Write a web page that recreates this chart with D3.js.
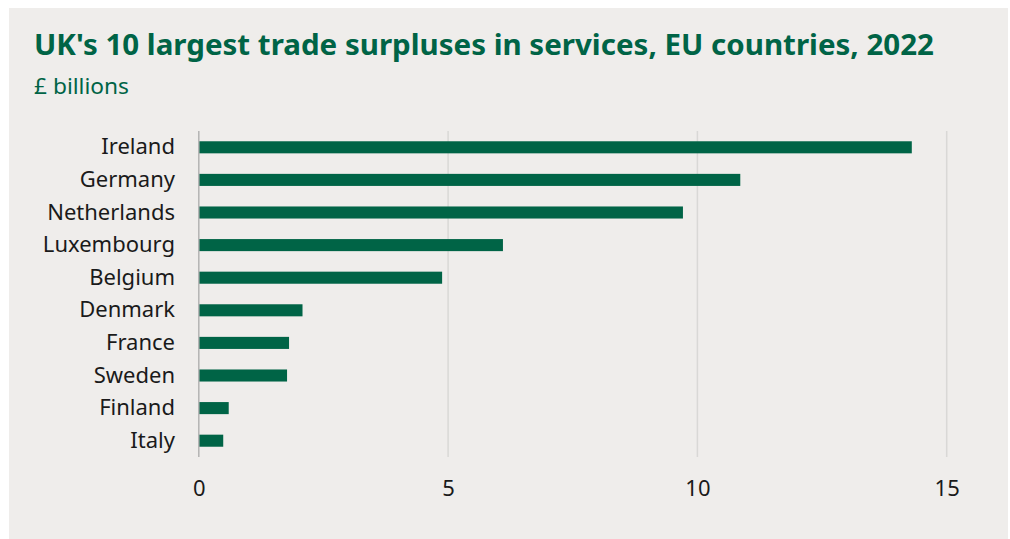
<!DOCTYPE html>
<html>
<head>
<meta charset="utf-8">
<script src="https://cdn.jsdelivr.net/npm/d3@7"></script>
<style>
  html, body { margin: 0; padding: 0; background: #ffffff; }
  svg { display: block; }
</style>
</head>
<body>
<svg id="chart" width="1010" height="539"></svg>
<script>
// UK trade surplus in services with EU countries, 2022 (£ billions)
const countries = ["Ireland", "Germany", "Netherlands", "Luxembourg", "Belgium",
                   "Denmark", "France", "Sweden", "Finland", "Italy"];
const surplus = [14.3, 10.86, 9.71, 6.1, 4.88, 2.08, 1.81, 1.77, 0.6, 0.49];
const xTicks = [0, 5, 10, 15];

const titleText = "UK's 10 largest trade surpluses in services, EU countries, 2022";
const subtitleText = "£ billions";

const green = "#006446";
const svg = d3.select("#chart");

// panel background
svg.append("rect")
  .attr("x", 9).attr("y", 8)
  .attr("width", 999).attr("height", 531)
  .attr("fill", "#efedeb");

svg.append("text")
  .attr("x", 34).attr("y", 55)
  .attr("font-family", "'Noto Sans', sans-serif")
  .attr("font-weight", 700)
  .attr("font-size", 26)
  .attr("textLength", 900)
  .attr("lengthAdjust", "spacingAndGlyphs")
  .attr("fill", green)
  .style("font-size", "29px")
  .text(titleText);

svg.append("text")
  .attr("x", 34).attr("y", 94)
  .attr("font-family", "'Noto Sans', sans-serif")
  .attr("font-size", 22)
  .attr("textLength", 95)
  .attr("lengthAdjust", "spacingAndGlyphs")
  .attr("fill", green)
  .text(subtitleText);

const data = countries.map((c, i) => ({ country: c, value: surplus[i] }));

const x = d3.scaleLinear().domain([0, 15]).range([198.8, 946.7]);
const y = d3.scaleBand().domain(countries).range([131, 457]).paddingInner(0.63).paddingOuter(0.315);

// vertical gridlines
svg.append("g")
  .selectAll("line")
  .data(xTicks.filter(t => t !== 0))
  .join("line")
  .attr("x1", d => x(d)).attr("x2", d => x(d))
  .attr("y1", 131).attr("y2", 457)
  .attr("stroke", "#d9d8d6")
  .attr("stroke-width", 1.5);

// bars
svg.append("g")
  .selectAll("rect")
  .data(data)
  .join("rect")
  .attr("x", x(0))
  .attr("y", d => y(d.country))
  .attr("width", d => x(d.value) - x(0))
  .attr("height", y.bandwidth())
  .attr("fill", green);

// baseline
svg.append("line")
  .attr("x1", x(0)).attr("x2", x(0))
  .attr("y1", 131).attr("y2", 457)
  .attr("stroke", "#b3b3b3")
  .attr("stroke-width", 1.5);

// category axis labels
const yAxis = d3.axisLeft(y).tickSize(0).tickPadding(0);
const gy = svg.append("g")
  .attr("transform", `translate(${175},0)`)
  .call(yAxis);
gy.select(".domain").remove();
gy.selectAll("text")
  .attr("font-family", "'Noto Sans', sans-serif")
  .attr("font-size", 22)
  .attr("fill", "#1a1a1a");

// value axis labels
const xAxis = d3.axisBottom(x).tickValues(xTicks).tickSize(0).tickPadding(0);
const gx = svg.append("g")
  .attr("transform", `translate(0,${480})`)
  .call(xAxis);
gx.select(".domain").remove();
gx.selectAll("text")
  .attr("font-family", "'Noto Sans', sans-serif")
  .attr("font-size", 22)
  .attr("fill", "#1a1a1a");
</script>
</body>
</html>
